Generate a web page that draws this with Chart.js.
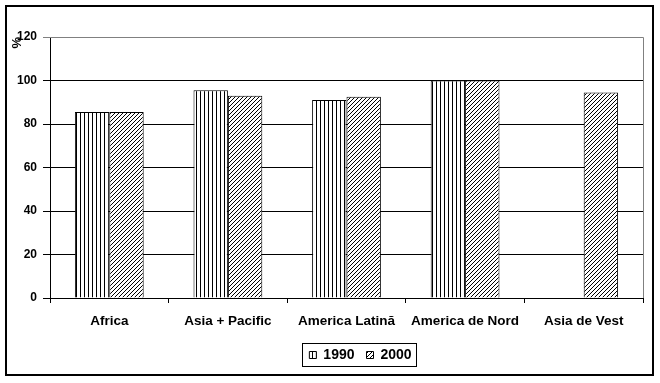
<!DOCTYPE html>
<html>
<head>
<meta charset="utf-8">
<script src="https://cdn.jsdelivr.net/npm/chart.js@4/dist/chart.umd.min.js"></script>
<style>
  html, body { margin: 0; padding: 0; background: #fff; }
  #wrap { width: 660px; height: 383px; position: relative; }
</style>
</head>
<body>
<div id="wrap"><canvas id="c" width="660" height="383"></canvas></div>
<script>
// rata de acces, 1990 vs 2000 (Asia de Vest fără date pentru 1990)
const CATEGORIES = ['Africa', 'Asia + Pacific', 'America Latină', 'America de Nord', 'Asia de Vest']
const SERIES_1990 = [85.5, 95.5, 91, 100, null]
const SERIES_2000 = [85.5, 93, 92.5, 100, 94.5]
const Y_TICKS = [0, 20, 40, 60, 80, 100, 120]

const FONT = '"Liberation Sans", Arial, sans-serif'
const LEGEND_SHIFT = 14  // legenda e puțin spre dreapta în original

// hașuri: linii verticale (1990), diagonale dese (2000)
function makePattern(kind) {
  const cv = document.createElement('canvas')
  cv.width = 4; cv.height = 4
  const g = cv.getContext('2d')
  g.fillStyle = '#fff'
  g.fillRect(0, 0, 4, 4)
  g.fillStyle = '#000'
  if (kind === 'vertical') {
    g.fillRect(0, 0, 1, 4)
  } else {
    for (let i = 0; i < 4; i++) g.fillRect(i, 3 - i, 1, 1)
  }
  return g.createPattern(cv, 'repeat')
}

const frame = {
  id: 'frame',
  afterLayout(chart) {
    const lg = chart.legend
    if (!lg) return
    lg.left += LEGEND_SHIFT
    lg.right += LEGEND_SHIFT
    lg.legendHitBoxes.forEach(h => { h.left += LEGEND_SHIFT })
  },
  afterDraw(chart) {
    const { ctx, chartArea: a } = chart
    ctx.save()
    // chenar plot (sus + dreapta gri)
    ctx.strokeStyle = '#808080'
    ctx.lineWidth = 1
    ctx.beginPath()
    ctx.moveTo(a.left, Math.round(a.top) + 0.5)
    ctx.lineTo(Math.round(a.right) + 0.5, Math.round(a.top) + 0.5)
    ctx.lineTo(Math.round(a.right) + 0.5, a.bottom)
    ctx.stroke()
    // chenar exterior
    ctx.strokeStyle = '#000'
    ctx.lineWidth = 2
    ctx.strokeRect(6, 6, 647, 369)
    // chenar legendă
    const lg = chart.legend
    if (lg && lg.legendHitBoxes.length) {
      const hb = lg.legendHitBoxes
      const x0 = Math.min(...hb.map(h => h.left)) - 7
      const x1 = Math.max(...hb.map(h => h.left + h.width)) + 5
      const y0 = Math.min(...hb.map(h => h.top)) - 5
      const y1 = Math.max(...hb.map(h => h.top + h.height)) + 4
      ctx.lineWidth = 1
      ctx.strokeRect(Math.round(x0) + 0.5, Math.round(y0) + 0.5, Math.round(x1 - x0), Math.round(y1 - y0))
    }
    ctx.restore()
  }
}

new Chart(document.getElementById('c'), {
  type: 'bar',
  data: {
    labels: CATEGORIES,
    datasets: [
      {
        label: '1990',
        data: SERIES_1990,
        backgroundColor: makePattern('vertical'),
        borderColor: '#000',
        borderWidth: 1,
        categoryPercentage: 0.58,
        barPercentage: 1,
      },
      {
        label: '2000',
        data: SERIES_2000,
        backgroundColor: makePattern('diagonal'),
        borderColor: '#000',
        borderWidth: 1,
        categoryPercentage: 0.58,
        barPercentage: 1,
      },
    ],
  },
  options: {
    responsive: false,
    animation: false,
    maintainAspectRatio: false,
    layout: { padding: { left: 0, right: 17, top: 37, bottom: 11 } },
    scales: {
      x: {
        grid: { display: true, drawOnChartArea: false, color: '#000', tickLength: 5, offset: true },
        border: { color: '#000', width: 1 },
        ticks: { color: '#000', font: { family: FONT, size: 13.5, weight: 'bold' }, padding: 10, maxRotation: 0 },
        afterFit(scale) { scale.height = 38 },
      },
      y: {
        min: 0,
        max: 120,
        afterBuildTicks(scale) { scale.ticks = Y_TICKS.map(v => ({ value: v })) },
        grid: {
          color: ctx => (ctx.tick && ctx.tick.value === 120 ? '#808080' : '#000'),
          tickLength: 7,
          lineWidth: 1,
        },
        border: { color: '#000', width: 1 },
        ticks: { color: '#000', font: { family: FONT, size: 12, weight: 'bold' }, padding: 6 },
        title: {
          display: true,
          text: '%',
          align: 'end',
          color: '#000',
          font: { family: FONT, size: 13, weight: 'bold' },
          padding: { top: 10, bottom: 0 },
        },
        afterFit(scale) { scale.width = 50 },
      },
    },
    plugins: {
      legend: {
        position: 'bottom',
        fullSize: false,
        labels: {
          color: '#000',
          boxWidth: 7,
          boxHeight: 7,
          padding: 12,
          font: { family: FONT, size: 14, weight: 'bold' },
        },
      },
      tooltip: { enabled: false },
    },
  },
  plugins: [frame],
})
</script>
</body>
</html>
